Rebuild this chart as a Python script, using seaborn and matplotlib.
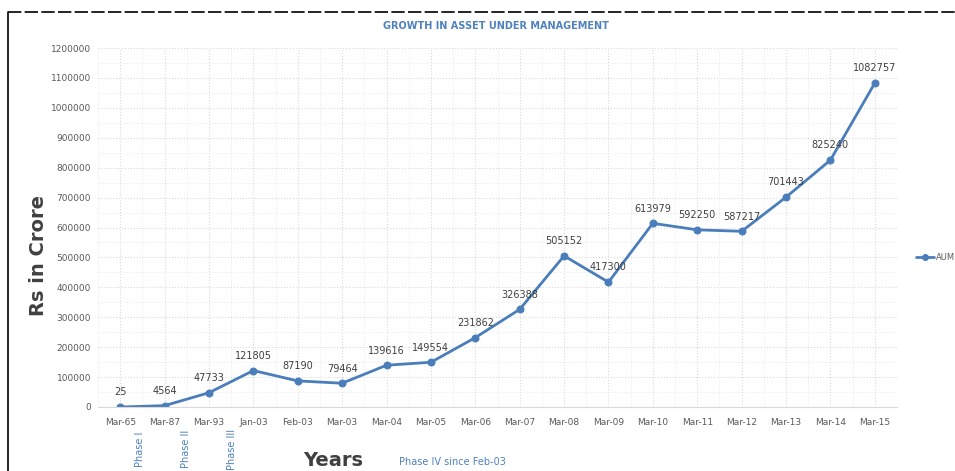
import matplotlib
matplotlib.use("Agg")
import matplotlib.pyplot as plt
import seaborn as sns
import pandas as pd
from matplotlib.lines import Line2D

categories = ["Mar-65", "Mar-87", "Mar-93", "Jan-03", "Feb-03", "Mar-03", "Mar-04",
              "Mar-05", "Mar-06", "Mar-07", "Mar-08", "Mar-09", "Mar-10", "Mar-11",
              "Mar-12", "Mar-13", "Mar-14", "Mar-15"]
aum = [25, 4564, 47733, 121805, 87190, 79464, 139616, 149554, 231862, 326388,
       505152, 417300, 613979, 592250, 587217, 701443, 825240, 1082757]
yticks = list(range(0, 1200001, 100000))
phase_labels = ["Phase I", "Phase II", "Phase III"]

sns.set_theme(style="white")
plt.rcParams['font.family'] = ['DejaVu Sans']

fig = plt.figure(figsize=(9.55, 4.71), dpi=100)
ax = fig.add_axes([98/955, 1-407/471, (897-98)/955, (407-48)/471])

df = pd.DataFrame({"x": range(len(categories)), "AUM": aum})
color = "#4A7EBB"
sns.lineplot(data=df, x="x", y="AUM", ax=ax, color=color, linewidth=2,
             marker="o", markersize=5, markeredgecolor=color, legend=False)

ax.set_xlim(-0.5, len(categories) - 0.5)
ax.set_ylim(0, 1200000)
ax.set_xticks(range(len(categories)))
ax.set_xticklabels(categories, fontsize=6.5, color="#595959")
ax.set_yticks(yticks)
ax.set_yticklabels([str(v) for v in yticks], fontsize=6.5, color="#595959")
ax.tick_params(axis="x", length=0, pad=8)
ax.tick_params(axis="y", length=0, pad=5)
ax.set_xlabel("")
ax.set_ylabel("")

# grid
ax.set_xticks([i + 0.5 for i in range(-1, len(categories))], minor=True)
ax.set_yticks(list(range(50000, 1200000, 100000)), minor=True)
ax.tick_params(which="minor", length=0)
ax.grid(True, which="major", color="#D9D9D9", linestyle=":", linewidth=0.8)
ax.grid(True, which="minor", color="#E6E6E6", linestyle=":", linewidth=0.6)
for s in ["top", "right", "left"]:
    ax.spines[s].set_visible(False)
ax.spines["bottom"].set_color("#D9D9D9")
ax.spines["bottom"].set_linewidth(0.8)

for i, v in enumerate(aum):
    ax.annotate(str(v), (i, v), xytext=(0, 7), textcoords="offset points",
                ha="center", va="bottom", fontsize=7, color="#404040")

# texts
fig.text(496/955, 1-26/471, "GROWTH IN ASSET UNDER MANAGEMENT", ha="center", va="center",
         fontsize=7, color="#4F81BD", fontweight="bold")
fig.text(38/955, 1-255/471, "Rs in Crore", rotation=90, ha="center", va="center",
         fontsize=14, color="#404040", fontweight="bold")
fig.text(333/955, 1-460/471, "Years", ha="center", va="center",
         fontsize=14, color="#404040", fontweight="bold")
fig.text(452/955, 1-462/471, "Phase IV since Feb-03", ha="center", va="center",
         fontsize=7, color="#4F81BD")
for x, lab in zip([140, 186, 232], phase_labels):
    fig.text(x/955, 1-449/471, lab, rotation=90, ha="center", va="center",
             fontsize=7, color="#4F81BD")

# legend
handle = Line2D([0], [0], color=color, linewidth=2, marker="o", markersize=4)
fig.legend([handle], ["AUM"], loc="center left", bbox_to_anchor=(908/955, 1-257/471),
           frameon=False, fontsize=6, handlelength=2.2, handletextpad=0.2,
           labelcolor="#595959")

# frame lines
fig.add_artist(Line2D([8/955, 1], [1-12/471, 1-12/471], transform=fig.transFigure,
                      color="black", linewidth=1.2, linestyle=(0, (8, 2))))
fig.add_artist(Line2D([8/955, 8/955], [0, 1-12/471], transform=fig.transFigure,
                      color="black", linewidth=1.2))

fig.savefig("out.png", dpi=100)
